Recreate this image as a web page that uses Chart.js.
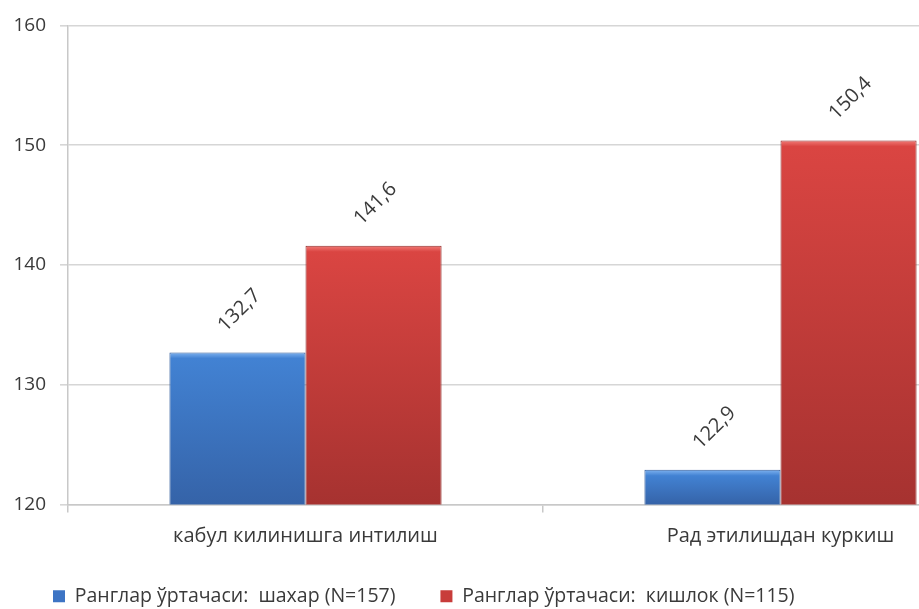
<!DOCTYPE html>
<html>
<head>
<meta charset="utf-8">
<script src="https://cdn.jsdelivr.net/npm/chart.js@4/dist/chart.umd.min.js"></script>
<style>
  html, body { margin: 0; padding: 0; background: #fff; width: 919px; height: 609px; overflow: hidden; }
  #wrap { position: relative; width: 1020px; height: 609px; }
</style>
</head>
<body>
<div id="wrap"><canvas id="chart"></canvas></div>
<script>
const categories = ['кабул килинишга интилиш', 'Рад этилишдан куркиш'];
const cityLabel = 'Ранглар ўртачаси:  шахар (N=157)';
const villageLabel = 'Ранглар ўртачаси:  кишлок (N=115)';
const cityValues = [132.7, 122.9];
const villageValues = [141.6, 150.4];
const yTicks = { min: 120, max: 160, step: 10 };

const textColor = '#3a3a3a';
const fontFamily = '"Open Sans", "Noto Sans", sans-serif';

// vertical gradient per bar, light bevel at top
function barFill(light, top, bottom, solid) {
    return (c) => {
        const chart = c.chart;
        if (c.type !== 'data' || !chart.chartArea) return solid;
        const y = chart.scales.y;
        const y0 = y.getPixelForValue(c.raw);
        const y1 = y.getPixelForValue(y.min);
        const h = Math.max(y1 - y0, 1);
        const g = chart.ctx.createLinearGradient(0, y0, 0, y1);
        g.addColorStop(0, light);
        g.addColorStop(Math.min(6 / h, 0.5), top);
        g.addColorStop(1, bottom);
        return g;
    };
}

const valueLabels = {
    id: 'valueLabels',
    afterDatasetsDraw(chart) {
        const ctx = chart.ctx;
        ctx.save();
        ctx.fillStyle = textColor;
        ctx.font = '20px ' + fontFamily;
        ctx.textAlign = 'center';
        ctx.textBaseline = 'middle';
        chart.data.datasets.forEach((ds, i) => {
            chart.getDatasetMeta(i).data.forEach((bar, j) => {
                const txt = ds.data[j].toFixed(1).replace('.', ',');
                ctx.save();
                ctx.translate(bar.x + 2, bar.y - 42);
                ctx.rotate(-Math.PI / 4);
                ctx.fillText(txt, 0, 0);
                ctx.restore();
            });
        });
        ctx.restore();
    }
};

// legend sits closer to the axis labels than chart.js would put it
const legendShift = 19;
const legendNudge = {
    id: 'legendNudge',
    beforeLayout(chart) {
        const lg = chart.legend;
        if (!lg || lg._nudged) return;
        const fit = lg.fit;
        lg.fit = function () { fit.call(this); this.height -= legendShift; };
        lg._nudged = true;
    },
    afterLayout(chart) {
        if (chart.legend) chart.legend.top -= legendShift;
    }
};

new Chart(document.getElementById('chart'), {
    type: 'bar',
    data: {
        labels: categories,
        datasets: [{
            label: cityLabel,
            data: cityValues,
            backgroundColor: barFill('#7fb3f0', '#4282d3', '#3563a8', '#3d74c4'),
            borderColor: '#2f5a99',
            borderWidth: 1,
            barPercentage: 1,
            categoryPercentage: 0.573
        }, {
            label: villageLabel,
            data: villageValues,
            backgroundColor: barFill('#f27c78', '#da4542', '#a63230', '#c83c3a'),
            borderColor: '#8f2a28',
            borderWidth: 1,
            barPercentage: 1,
            categoryPercentage: 0.573
        }]
    },
    options: {
        responsive: true,
        maintainAspectRatio: false,
        animation: false,
        layout: { padding: { top: 25, left: 8, right: 2, bottom: -7 } },
        plugins: {
            tooltip: { enabled: false },
            legend: {
                position: 'bottom',
                align: 'start',
                labels: {
                    color: textColor,
                    font: { family: fontFamily, size: 19.5 },
                    boxWidth: 12,
                    boxHeight: 12,
                    padding: 45,
                    generateLabels(chart) {
                        const items = Chart.defaults.plugins.legend.labels.generateLabels(chart);
                        const solid = ['#3d74c4', '#c83c3a'];
                        items.forEach((it, i) => { it.fillStyle = solid[i]; it.lineWidth = 0; });
                        return items;
                    }
                }
            }
        },
        scales: {
            x: {
                grid: { drawOnChartArea: false, tickLength: 8, color: '#c8c8c8', lineWidth: 1.5 },
                border: { color: '#c8c8c8', width: 1.5 },
                ticks: { color: textColor, padding: 12, font: { family: fontFamily, size: 20 } }
            },
            y: {
                min: yTicks.min,
                max: yTicks.max,
                afterFit(s) { s.width = 60; },
                grid: { color: '#d6d6d6', lineWidth: 1.6, tickLength: 8 },
                border: { color: '#c8c8c8', width: 1.5 },
                ticks: { stepSize: yTicks.step, color: textColor, padding: 14, font: { family: fontFamily, size: 19 } }
            }
        }
    },
    plugins: [valueLabels, legendNudge]
});
</script>
</body>
</html>
